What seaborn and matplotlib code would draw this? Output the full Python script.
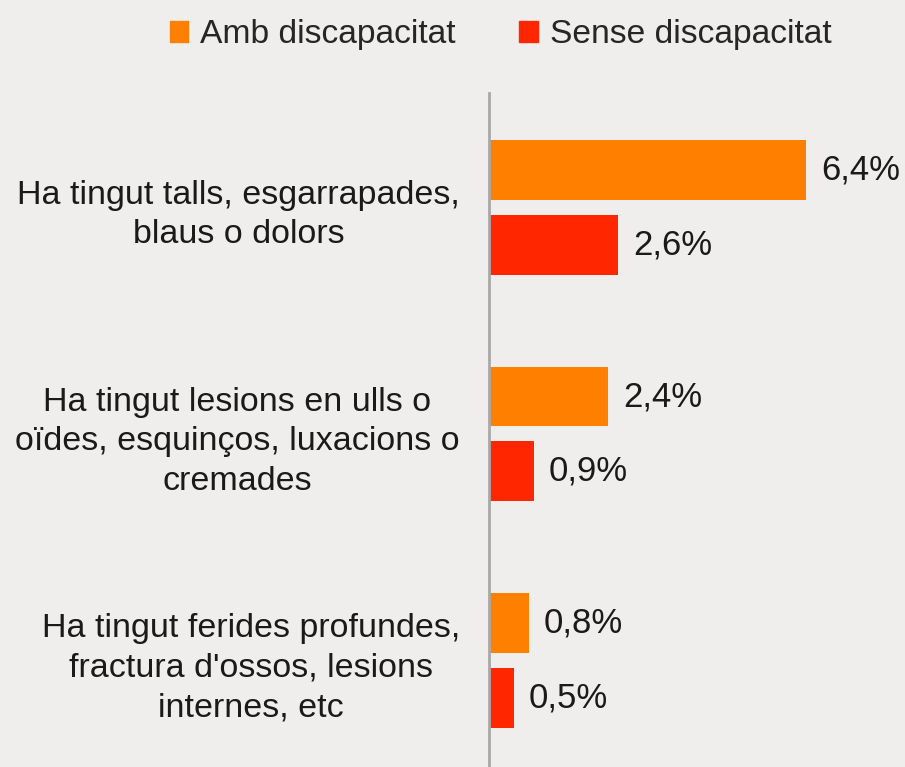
import matplotlib
matplotlib.use("Agg")
import matplotlib.pyplot as plt
import seaborn as sns
import pandas as pd

# data
categories = [
    "Ha tingut talls, esgarrapades,\nblaus o dolors",
    "Ha tingut lesions en ulls o\noïdes, esquinços, luxacions o\ncremades",
    "Ha tingut ferides profundes,\nfractura d'ossos, lesions\ninternes, etc",
]
groups = ["Amb discapacitat", "Sense discapacitat"]
amb = [6.4, 2.4, 0.8]
sense = [2.6, 0.9, 0.5]
colors = ["#FF7F00", "#FF2600"]

df = pd.DataFrame({
    "categoria": categories * 2,
    "grup": [groups[0]] * 3 + [groups[1]] * 3,
    "valor": amb + sense,
})

sns.set_style("white")
plt.rcParams["font.family"] = ["Liberation Sans", "DejaVu Sans"]

bg = "#efeeec"
fig = plt.figure(figsize=(9.05, 7.67), dpi=100, facecolor=bg)
ax = fig.add_axes([489 / 905, 0, 1 - 489 / 905, 1 - 93 / 767])
ax.set_facecolor(bg)

sns.barplot(data=df, y="categoria", x="valor", hue="grup", orient="h",
            palette=colors, width=0.66, gap=0.2, saturation=1,
            linewidth=0, ax=ax, legend=False)

for cont in ax.containers:
    labs = [f"{v:.1f}%".replace(".", ",") for v in cont.datavalues]
    ax.bar_label(cont, labels=labs, padding=11, fontsize=25, color="#1a1a1a")

ax.set_xlim(0, 8.4)
ax.set_ylim(2.47, -0.505)
ax.set_xlabel("")
ax.set_ylabel("")
ax.set_xticks([])
for s in ["top", "right", "bottom"]:
    ax.spines[s].set_visible(False)
ax.spines["left"].set_color("#a8a8a8")
ax.spines["left"].set_linewidth(2)
ax.tick_params(axis="y", length=0, pad=21, labelsize=24.5, labelcolor="#1a1a1a")
for t in ax.get_yticklabels():
    t.set_multialignment("center")
    t.set_linespacing(1.35)

handles = [plt.Rectangle((0, 0), 1, 1, color=c) for c in colors]
fig.legend(handles, groups, loc="center", bbox_to_anchor=(0.553, 1 - 35 / 767),
           ncol=2, frameon=False, fontsize=24.2, handlelength=0.55, handleheight=0.55,
           handletextpad=0.35, columnspacing=1.9)

fig.savefig("out.png", dpi=100, facecolor=bg)
